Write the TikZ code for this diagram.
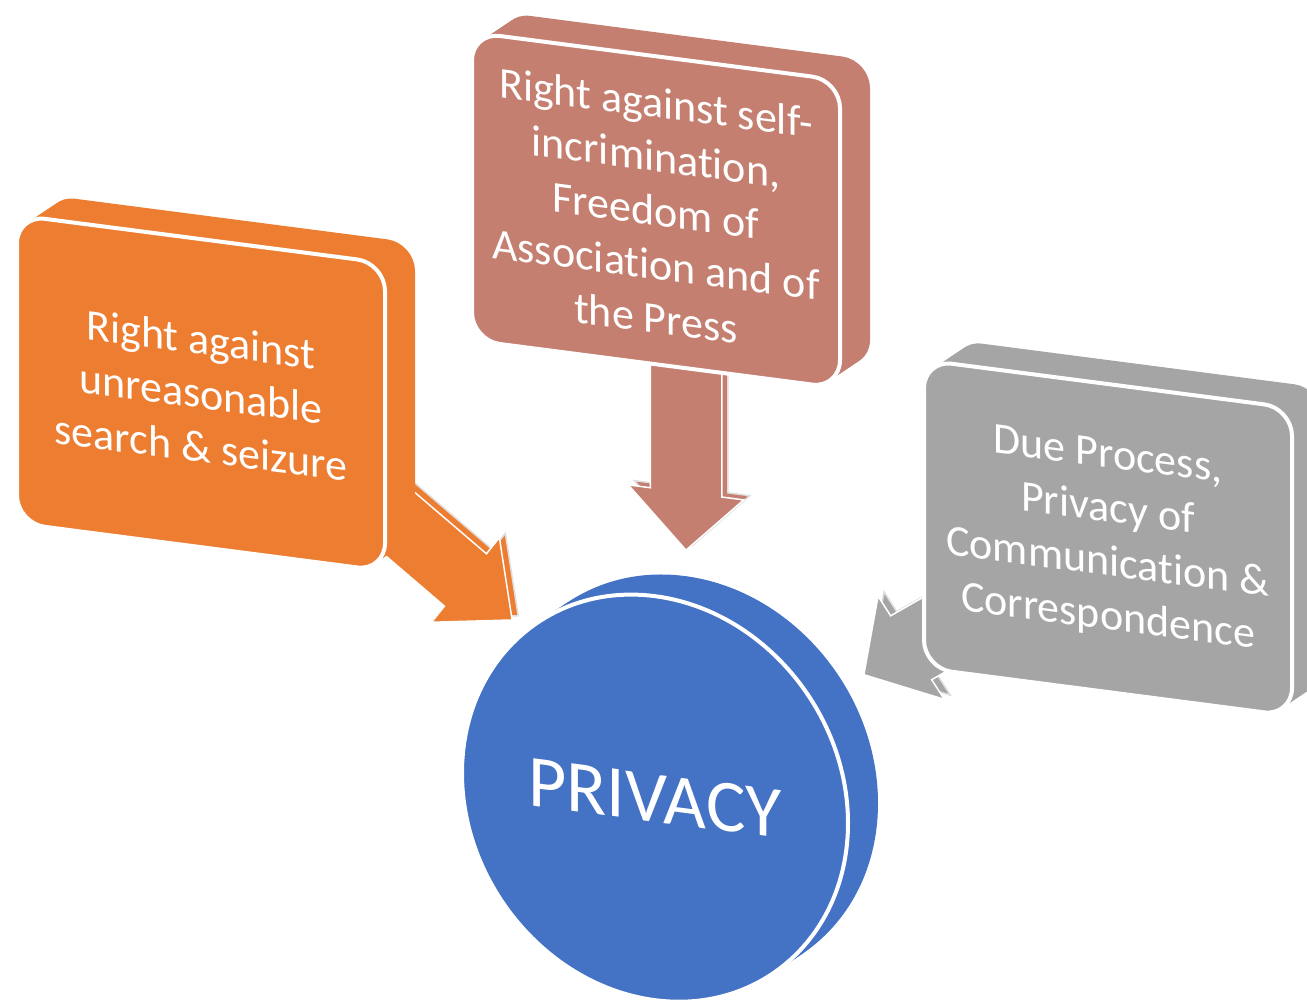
\documentclass[tikz,border=0pt]{standalone}
\usepackage{fontspec}
\setmainfont{Carlito}[Ligatures=NoCommon]
\usetikzlibrary{shapes.geometric,shapes.arrows}

\definecolor{sorange}{HTML}{ED7D31}
\definecolor{srose}{HTML}{C47F70}
\definecolor{sgrey}{HTML}{A5A5A5}
\definecolor{sblue}{HTML}{4472C4}

\begin{document}
\begin{tikzpicture}[x=1pt,y=1pt,
    slab/.style={rectangle,rounded corners=28pt,minimum width=368pt,minimum height=308pt,inner sep=0pt},
    disc/.style={ellipse,minimum width=386pt,minimum height=404pt,inner sep=0pt,fill=sblue},
    face/.style={draw=white,line width=4pt},
    slabtext/.style={text=white,align=center,font=\fontsize{44}{54}\selectfont},
    bigarrow/.style={single arrow,single arrow head extend=22pt,inner xsep=0pt,inner ysep=35pt,anchor=tip},
    arrowedge/.style={draw=black!13,line width=1.5pt}]
  \useasboundingbox (0,0) rectangle (1307,-1005);
  \clip (0,0) rectangle (1307,-1005);
  \begin{scope}[yslant=-0.13,every node/.style={transform shape}]
    % arrows into the disc
    \node[bigarrow,arrowedge,fill=sorange,minimum height=200pt,rotate=-36] (orangeback) at (519,-549) {};
    \node[bigarrow,draw=white,line width=1.5pt,fill=sorange,minimum height=200pt,rotate=-36] (orangearrow) at (513,-554) {};
    \node[bigarrow,arrowedge,fill=srose,minimum height=210pt,rotate=-90] (roseback) at (692,-457) {};
    \node[bigarrow,draw=white,line width=1.5pt,fill=srose,minimum height=210pt,rotate=-90] (rosearrow) at (686,-462) {};
    \node[bigarrow,arrowedge,fill=sgrey,minimum height=200pt,rotate=-145] (greyback) at (869,-558) {};
    \node[bigarrow,draw=white,line width=1.5pt,fill=sgrey,minimum height=200pt,rotate=-145] (greyarrow) at (863,-563) {};

    % slabs
    \foreach \d in {0,...,10} {
      \node[slab,fill=sorange] (orangedepth\d) at (201+3*\d,-367+2.4*\d) {};
      \node[slab,fill=srose] (rosedepth\d) at (656+3*\d,-125+2.4*\d) {};
      \node[slab,fill=sgrey] (greydepth\d) at (1108+3*\d,-394+2.4*\d) {};
      \node[disc] (discdepth\d) at (655+3*\d,-713+2.4*\d) {};
    }
    \node[slab,face,fill=sorange,slabtext] (orangebox) at (201,-367) {Right against\\unreasonable\\search \& seizure};
    \node[slab,face,fill=srose,slabtext] (rosebox) at (656,-125) {Right against self-\\incrimination,\\Freedom of\\Association and of\\the Press};
    \node[slab,face,fill=sgrey,slabtext] (greybox) at (1108,-394) {Due Process,\\Privacy of\\Communication \&\\Correspondence};

    % centre
    \node[disc,face,text=white,font=\fontsize{74}{80}\selectfont] (privacy) at (655,-713) {PRIVACY};
  \end{scope}
\end{tikzpicture}
\end{document}
